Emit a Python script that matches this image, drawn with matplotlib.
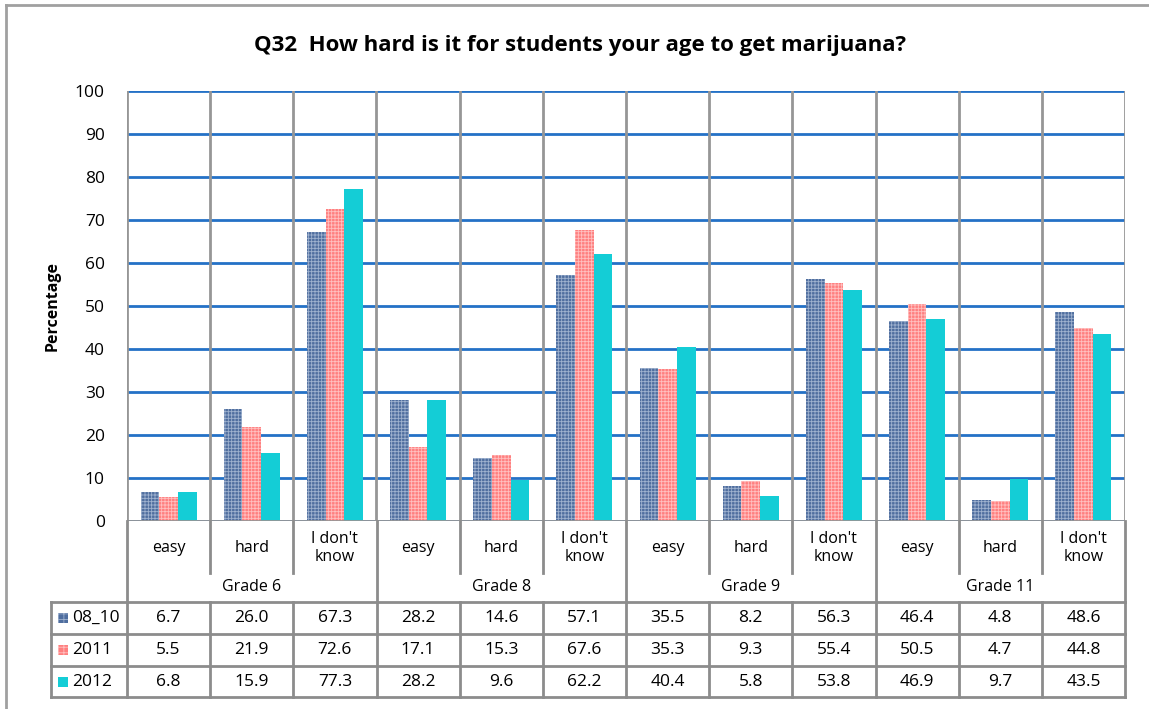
import matplotlib
matplotlib.use("Agg")
import matplotlib.pyplot as plt
import numpy as np

plt.rcParams['font.family'] = ['Open Sans', 'DejaVu Sans']

title = "Q32  How hard is it for students your age to get marijuana?"
grades = ["Grade 6", "Grade 8", "Grade 9", "Grade 11"]
answers = ["easy", "hard", "I don't\nknow"]
series_names = ["08_10", "2011", "2012"]
s_0810 = [6.7, 26.0, 67.3, 28.2, 14.6, 57.1, 35.5, 8.2, 56.3, 46.4, 4.8, 48.6]
s_2011 = [5.5, 21.9, 72.6, 17.1, 15.3, 67.6, 35.3, 9.3, 55.4, 50.5, 4.7, 44.8]
s_2012 = [6.8, 15.9, 77.3, 28.2, 9.6, 62.2, 40.4, 5.8, 53.8, 46.9, 9.7, 43.5]
yticks = list(range(0, 101, 10))

colors = ["#4F6E9F", "#FF7F7F", "#14CDD6"]
hatch_colors = ["#9FB2CF", "#FFC0C0", None]

W, H = 1149, 709
fig = plt.figure(figsize=(W / 100, H / 100), dpi=100)

PL, PR, PT, PB = 127, 1125, 91, 521
ax = fig.add_axes([PL / W, 1 - PB / H, (PR - PL) / W, (PB - PT) / H])
n = len(s_0810)
x = np.arange(n)
ax.set_xlim(-0.5, n - 0.5)
ax.set_ylim(0, 100)
bw = 0.224
plt.rcParams['hatch.linewidth'] = 0.6
for k, (vals, c, hc) in enumerate(zip([s_0810, s_2011, s_2012], colors, hatch_colors)):
    if hc is None:
        ax.bar(x + (k - 1) * bw, vals, bw, color=c, linewidth=0, zorder=3)
    else:
        ax.bar(x + (k - 1) * bw, vals, bw, color=c, edgecolor=hc, hatch='+++++',
               linewidth=0, zorder=3)

ax.set_yticks(yticks)
ax.set_xticks([])
ax.tick_params(axis='y', length=0, labelsize=12.5, pad=16)
ax.grid(axis='y', color='#2471C6', linewidth=2, zorder=1)
for xv in np.arange(-0.5, n, 1.0):
    ax.axvline(xv, color='#969696', linewidth=2, zorder=2)
for s in ax.spines.values():
    s.set_visible(False)
ax.axhline(0, color='#969696', linewidth=2, zorder=4)
ax.set_ylabel("Percentage", fontsize=11.5, fontweight='bold', labelpad=10)

# overlay in pixel coordinates for table and frame
ov = fig.add_axes([0, 0, 1, 1])
ov.set_xlim(0, W)
ov.set_ylim(H, 0)
ov.axis('off')
ov.patch.set_alpha(0)

gc = '#8C8C8C'
# outer chart frame
ov.plot([6, 6], [5, H], color='#A0A0A0', lw=2)
ov.plot([6, W], [5, 5], color='#A0A0A0', lw=2)

ov.text(W / 2 + 6, 45, title, ha='center', va='center', fontsize=16, fontweight='bold')

cw = (PR - PL) / n
cols = [PL + i * cw for i in range(n + 1)]
# category label lines
for i, cx in enumerate(cols):
    if i % 3 == 0:
        ov.plot([cx, cx], [PB, 602], color=gc, lw=2)
    else:
        ov.plot([cx, cx], [PB, 573], color=gc, lw=2)
for i in range(n):
    ov.text(cols[i] + cw / 2, 548, answers[i % 3], ha='center', va='center',
            fontsize=11.5, linespacing=1.2)
for g, name in enumerate(grades):
    ov.text((cols[3 * g] + cols[3 * g + 3]) / 2, 587, name, ha='center', va='center', fontsize=11.5)

# data table
TL = 51
rows = [602, 634, 666, 697]
for ry in rows:
    ov.plot([TL, PR], [ry, ry], color=gc, lw=2)
ov.plot([TL, TL], [rows[0], rows[-1]], color=gc, lw=2)
for cx in cols:
    ov.plot([cx, cx], [rows[0], rows[-1]], color=gc, lw=2)
for r, (name, vals, c, hc) in enumerate(zip(series_names, [s_0810, s_2011, s_2012], colors, hatch_colors)):
    yc = (rows[r] + rows[r + 1]) / 2
    rect = plt.Rectangle((58, yc - 5), 10, 10, facecolor=c,
                         edgecolor=hc if hc else c, hatch='+++' if hc else None, lw=0)
    ov.add_patch(rect)
    ov.text(72, yc, name, ha='left', va='center', fontsize=12.5)
    for i, v in enumerate(vals):
        ov.text(cols[i] + cw / 2, yc, f"{v:.1f}", ha='center', va='center', fontsize=12.5)

fig.savefig("out.png", dpi=100)
